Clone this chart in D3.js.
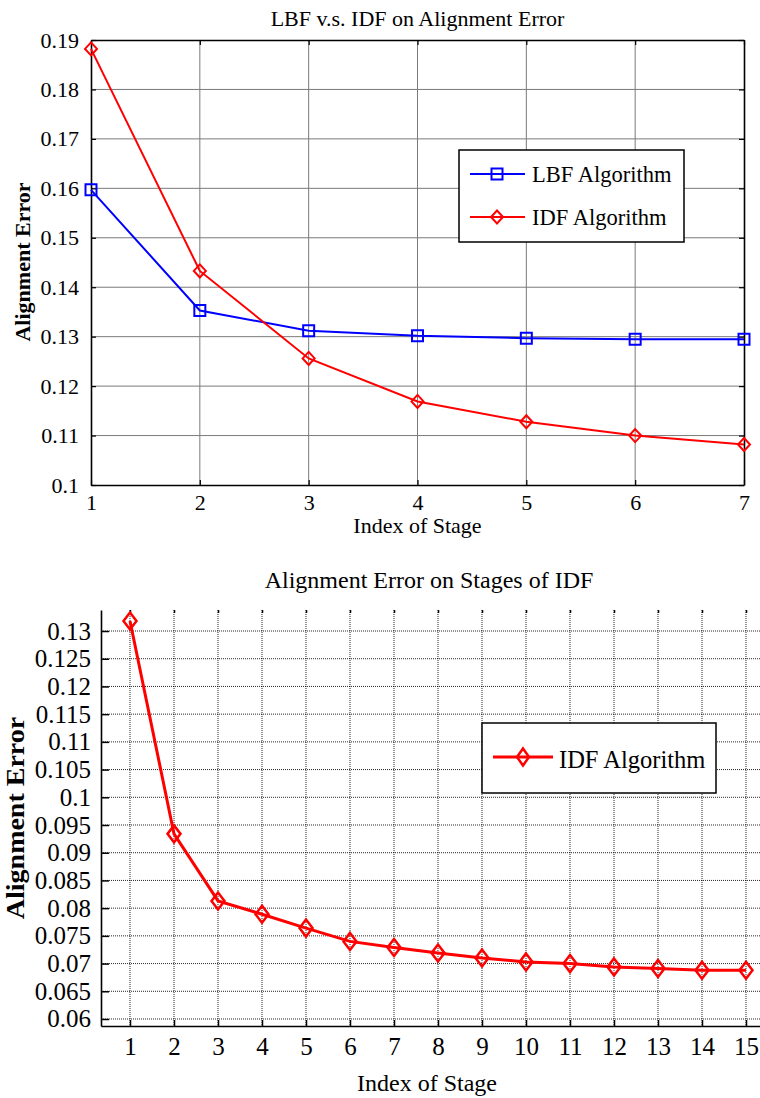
<!DOCTYPE html>
<html>
<head>
<meta charset="utf-8">
<script src="https://cdn.jsdelivr.net/npm/d3@7/dist/d3.min.js"></script>
<style>
  body { margin: 0; background: #fff; }
  text { font-family: 'Liberation Serif', 'Times New Roman', serif; fill: #000; }
</style>
</head>
<body>
<div id="chart"></div>
<script>
// ---------------- data ----------------
var topStages = [1, 2, 3, 4, 5, 6, 7];
var topLBF = [0.1597, 0.1353, 0.1312, 0.1302, 0.1297, 0.1295, 0.1295];
var topIDF = [0.1882, 0.1433, 0.1256, 0.1169, 0.1128, 0.1100, 0.1082];
var topYTicks = [0.1, 0.11, 0.12, 0.13, 0.14, 0.15, 0.16, 0.17, 0.18, 0.19];
var topYLabels = ['0.1', '0.11', '0.12', '0.13', '0.14', '0.15', '0.16', '0.17', '0.18', '0.19'];
var topSeriesNames = ['LBF Algorithm', 'IDF Algorithm'];

var bottomStages = [1, 2, 3, 4, 5, 6, 7, 8, 9, 10, 11, 12, 13, 14, 15];
var bottomIDF = [0.1318, 0.0934, 0.0813, 0.0789, 0.0764, 0.0740, 0.0729, 0.0719,
                 0.0710, 0.0703, 0.0700, 0.0694, 0.0691, 0.0688, 0.0688];
var bottomYTicks = [0.06, 0.065, 0.07, 0.075, 0.08, 0.085, 0.09, 0.095,
                    0.1, 0.105, 0.11, 0.115, 0.12, 0.125, 0.13];
var bottomYLabels = ['0.06', '0.065', '0.07', '0.075', '0.08', '0.085', '0.09', '0.095',
                     '0.1', '0.105', '0.11', '0.115', '0.12', '0.125', '0.13'];

// ---------------- setup ----------------
var svgWidth = 760, svgHeight = 1098;

var svg = d3.select('#chart').append('svg')
  .attr('width', svgWidth)
  .attr('height', svgHeight);

// marker shapes
function squarePath(s) {
  return 'M' + (-s) + ',' + (-s) + 'H' + s + 'V' + s + 'H' + (-s) + 'Z';
}
function diamondPath(w, h) {
  return 'M0,' + (-h) + 'L' + w + ',0L0,' + h + 'L' + (-w) + ',0Z';
}

// ================= top chart =================
(function () {
  var left = 91, right = 744, top = 40, bottom = 485;
  var x = d3.scaleLinear().domain([1, 7]).range([left, right]);
  var y = d3.scaleLinear().domain([0.1, 0.19]).range([bottom, top]);
  var fs = 22;
  var g = svg.append('g').attr('class', 'top-chart');

  // grid
  g.append('g').selectAll('line.vg').data(topStages.slice(1, -1)).enter().append('line')
    .attr('x1', d => x(d)).attr('x2', d => x(d)).attr('y1', top).attr('y2', bottom)
    .attr('stroke', '#7a7a7a').attr('stroke-width', 1);
  g.append('g').selectAll('line.hg').data(topYTicks.slice(1, -1)).enter().append('line')
    .attr('y1', d => y(d)).attr('y2', d => y(d)).attr('x1', left).attr('x2', right)
    .attr('stroke', '#7a7a7a').attr('stroke-width', 1);

  // axes
  var xAxis = d3.axisBottom(x).tickValues(topStages).tickSizeInner(-5).tickSizeOuter(0).tickPadding(12)
    .tickFormat(d3.format('d'));
  var yAxis = d3.axisLeft(y).tickValues(topYTicks).tickSizeInner(-5).tickSizeOuter(0).tickPadding(12)
    .tickFormat((d, i) => topYLabels[i]);
  var xAxisTop = d3.axisTop(x).tickValues(topStages).tickSizeInner(-5).tickSizeOuter(0).tickFormat('');
  var yAxisRight = d3.axisRight(y).tickValues(topYTicks).tickSizeInner(-5).tickSizeOuter(0).tickFormat('');

  var ax = g.append('g').attr('transform', 'translate(0,' + bottom + ')').call(xAxis);
  var ay = g.append('g').attr('transform', 'translate(' + left + ',0)').call(yAxis);
  var axt = g.append('g').attr('transform', 'translate(0,' + top + ')').call(xAxisTop);
  var ayr = g.append('g').attr('transform', 'translate(' + right + ',0)').call(yAxisRight);
  [ax, ay, axt, ayr].forEach(function (a) {
    a.attr('font-family', null);
    a.select('.domain').attr('stroke', '#000').attr('stroke-width', 1.6);
    a.selectAll('.tick line').attr('stroke', '#000').attr('stroke-width', 1.2);
    a.selectAll('.tick text').attr('font-size', fs);
  });
  ax.selectAll('.tick text').attr('dy', '0.6em');

  // title & labels
  g.append('text').attr('x', (left + right) / 2).attr('y', 26).attr('text-anchor', 'middle')
    .attr('font-size', fs).text('LBF v.s. IDF on Alignment Error');
  g.append('text').attr('x', (left + right) / 2).attr('y', 533).attr('text-anchor', 'middle')
    .attr('font-size', fs).text('Index of Stage');
  g.append('text').attr('transform', 'translate(30,' + 262 + ') rotate(-90)').attr('text-anchor', 'middle')
    .attr('font-size', fs).attr('font-weight', 'bold').text('Alignment Error');

  // lines
  var line = d3.line().x((d, i) => x(topStages[i])).y(d => y(d));
  g.append('path').datum(topLBF).attr('d', line).attr('fill', 'none').attr('stroke', '#0000ff').attr('stroke-width', 2);
  g.append('path').datum(topIDF).attr('d', line).attr('fill', 'none').attr('stroke', '#ff0000').attr('stroke-width', 2);

  g.append('g').selectAll('path').data(topLBF).enter().append('path')
    .attr('transform', (d, i) => 'translate(' + x(topStages[i]) + ',' + y(d) + ')')
    .attr('d', squarePath(5.5)).attr('fill', 'none').attr('stroke', '#0000ff').attr('stroke-width', 2);
  g.append('g').selectAll('path').data(topIDF).enter().append('path')
    .attr('transform', (d, i) => 'translate(' + x(topStages[i]) + ',' + y(d) + ')')
    .attr('d', diamondPath(6, 6.5)).attr('fill', 'none').attr('stroke', '#ff0000').attr('stroke-width', 2);

  // legend
  var lg = g.append('g');
  lg.append('rect').attr('x', 459).attr('y', 150).attr('width', 225).attr('height', 92)
    .attr('fill', '#fff').attr('stroke', '#000').attr('stroke-width', 1.5);
  var colors = ['#0000ff', '#ff0000'];
  topSeriesNames.forEach(function (name, i) {
    var ly = 174 + i * 43;
    lg.append('line').attr('x1', 470).attr('x2', 525).attr('y1', ly).attr('y2', ly)
      .attr('stroke', colors[i]).attr('stroke-width', 2);
    lg.append('path').attr('transform', 'translate(497,' + ly + ')')
      .attr('d', i === 0 ? squarePath(5.5) : diamondPath(6, 6.5))
      .attr('fill', 'none').attr('stroke', colors[i]).attr('stroke-width', 2);
    lg.append('text').attr('x', 532).attr('y', ly + 8).attr('font-size', 22.5).text(name);
  });
})();

// ================= bottom chart =================
(function () {
  var left = 101, right = 762, top = 610, bottom = 1026;
  var x = d3.scaleLinear().domain([1 - 29 / 44, 1 + (right - 130) / 44]).range([left, right]);
  var y = d3.scaleLinear().domain([0.06 - 7 / 27.7 * 0.005, 0.13 + 21 / 27.7 * 0.005]).range([bottom, top]);
  var fs = 25;
  var g = svg.append('g').attr('class', 'bottom-chart');

  // grid
  g.append('g').selectAll('line').data(bottomStages).enter().append('line')
    .attr('x1', d => x(d)).attr('x2', d => x(d)).attr('y1', top).attr('y2', bottom)
    .attr('stroke', '#000').attr('stroke-width', 1).attr('stroke-dasharray', '1,1').attr('opacity', 0.85);
  g.append('g').selectAll('line').data(bottomYTicks).enter().append('line')
    .attr('y1', d => y(d)).attr('y2', d => y(d)).attr('x1', left).attr('x2', right)
    .attr('stroke', '#000').attr('stroke-width', 1).attr('stroke-dasharray', '1,1').attr('opacity', 0.85);

  // axes
  var xAxis = d3.axisBottom(x).tickValues(bottomStages).tickSizeInner(-6).tickSizeOuter(0).tickPadding(14)
    .tickFormat(d3.format('d'));
  var yAxis = d3.axisLeft(y).tickValues(bottomYTicks).tickSizeInner(-8).tickSizeOuter(0).tickPadding(10)
    .tickFormat((d, i) => bottomYLabels[i]);
  var xAxisTop = d3.axisTop(x).tickValues(bottomStages).tickSizeInner(-3).tickSizeOuter(0).tickFormat('');

  var ax = g.append('g').attr('transform', 'translate(0,' + bottom + ')').call(xAxis);
  var ay = g.append('g').attr('transform', 'translate(' + left + ',0)').call(yAxis);
  var axt = g.append('g').attr('transform', 'translate(0,' + top + ')').call(xAxisTop);
  axt.select('.domain').remove();
  [ax, ay, axt].forEach(function (a) {
    a.attr('font-family', null);
    a.select('.domain').attr('stroke', '#000').attr('stroke-width', 1.6);
    a.selectAll('.tick line').attr('stroke', '#000').attr('stroke-width', 1.5);
    a.selectAll('.tick text').attr('font-size', fs);
  });
  ax.selectAll('.tick text').attr('dy', '0.6em');

  // title & labels
  g.append('text').attr('x', 429).attr('y', 588).attr('text-anchor', 'middle')
    .attr('font-size', 24).text('Alignment Error on Stages of IDF');
  g.append('text').attr('x', 427).attr('y', 1091).attr('text-anchor', 'middle')
    .attr('font-size', 24).text('Index of Stage');
  g.append('text').attr('transform', 'translate(24,' + 818 + ') rotate(-90) scale(1.12,1)')
    .attr('text-anchor', 'middle')
    .attr('font-size', 25).attr('font-weight', 'bold').text('Alignment Error');

  // line
  var line = d3.line().x((d, i) => x(bottomStages[i])).y(d => y(d));
  g.append('path').datum(bottomIDF).attr('d', line).attr('fill', 'none').attr('stroke', '#ff0000').attr('stroke-width', 3);
  g.append('g').selectAll('path').data(bottomIDF).enter().append('path')
    .attr('transform', (d, i) => 'translate(' + x(bottomStages[i]) + ',' + y(d) + ')')
    .attr('d', diamondPath(6.5, 8.5)).attr('fill', 'none').attr('stroke', '#ff0000').attr('stroke-width', 2.5);

  // legend
  var lg = g.append('g');
  lg.append('rect').attr('x', 482).attr('y', 723).attr('width', 234).attr('height', 70)
    .attr('fill', '#fff').attr('stroke', '#000').attr('stroke-width', 1.5);
  lg.append('line').attr('x1', 493).attr('x2', 553).attr('y1', 757).attr('y2', 757)
    .attr('stroke', '#ff0000').attr('stroke-width', 3);
  lg.append('path').attr('transform', 'translate(523,757)').attr('d', diamondPath(6, 8.5))
    .attr('fill', 'none').attr('stroke', '#ff0000').attr('stroke-width', 2.5);
  lg.append('text').attr('x', 559).attr('y', 768).attr('font-size', 24.5).text('IDF Algorithm');
})();
</script>
</body>
</html>
